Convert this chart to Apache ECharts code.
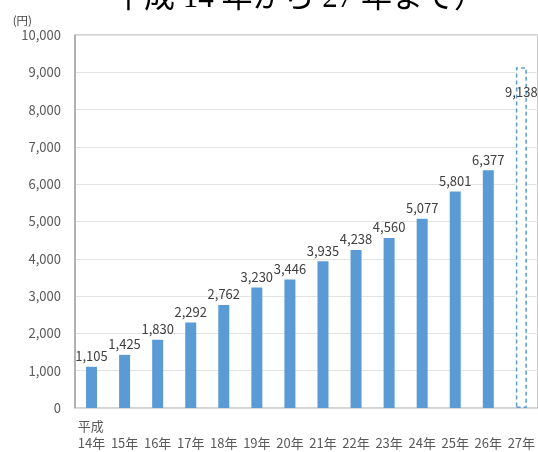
<!DOCTYPE html>
<html>
<head>
<meta charset="utf-8">
<script src="https://cdn.jsdelivr.net/npm/echarts@6/dist/echarts.min.js"></script>
<style>
html, body { margin: 0; padding: 0; background: #fff; }
#main { width: 538px; height: 452px; }
</style>
</head>
<body>
<div id="main"></div>
<script>
var titleText = "平成 14 年から 27 年まで）";
var unitName = "(円)";
var eraName = "平成";
var years = ["14年", "15年", "16年", "17年", "18年", "19年", "20年", "21年", "22年", "23年", "24年", "25年", "26年", "27年"];
var amounts = [1105, 1425, 1830, 2292, 2762, 3230, 3446, 3935, 4238, 4560, 5077, 5801, 6377, 9138];
// 最後の年は見込み（点線）
var estimateIndex = 13;

var font = "'Noto Sans CJK JP', 'Noto Sans', sans-serif";

function fmt(v) {
	return Number(v).toLocaleString('en-US');
}

var barData = amounts.map(function(v, i) {
	if (i != estimateIndex) {
		return v;
	}
	return {
		value : v,
		itemStyle : {
			color : '#ffffff',
			borderColor : '#5b9bd5',
			borderWidth : 1.5,
			borderType : [4, 3]
		},
		label : {
			position : 'insideTop',
			offset : [0, 14]
		}
	};
});

var chart = echarts.init(document.getElementById('main'));

chart.setOption({
	animation : false,
	title : {
		text : titleText,
		left : 113,
		top : -17,
		padding : 0,
		textStyle : {
			fontFamily : "'Liberation Serif', 'Noto Sans CJK JP', serif",
			fontSize : 31,
			fontWeight : 'normal',
			color : '#000'
		}
	},
	grid : {
		left : 75,
		right : -2,
		top : 35,
		bottom : 40,
		show : true,
		borderColor : '#a6a6a6',
		borderWidth : 1
	},
	xAxis : {
		type : 'category',
		data : years,
		axisLine : { lineStyle : { color : '#d9d9d9', width : 1 } },
		axisTick : { show : false },
		axisLabel : {
			margin : 10,
			fontFamily : font,
			fontSize : 13,
			color : '#595959',
			lineHeight : 17,
			interval : 0,
			formatter : function(v, i) {
				if (i == 0) {
					return '{e|' + eraName + '}\n' + v;
				}
				return '\n' + v;
			},
			rich : {
				e : {
					align : 'left',
					fontFamily : font,
					fontSize : 13,
					color : '#595959',
					lineHeight : 17
				}
			}
		}
	},
	yAxis : {
		type : 'value',
		min : 0,
		max : 10000,
		interval : 1000,
		name : unitName,
		nameLocation : 'end',
		nameGap : 9,
		nameTextStyle : {
			align : 'right',
			padding : [0, 43, 0, 0],
			fontFamily : font,
			fontSize : 11.5,
			color : '#404040'
		},
		axisLine : { show : true, lineStyle : { color : '#a6a6a6', width : 1.5 } },
		axisTick : { show : false },
		splitLine : { lineStyle : { color : '#e3e3e3' } },
		axisLabel : {
			margin : 14,
			fontFamily : font,
			fontSize : 13,
			color : '#595959',
			formatter : fmt
		}
	},
	series : [{
		type : 'bar',
		data : barData,
		barWidth : 11,
		itemStyle : { color : '#5b9bd5' },
		label : {
			show : true,
			position : 'top',
			distance : 4,
			fontFamily : font,
			fontSize : 13,
			color : '#404040',
			formatter : function(p) {
				return fmt(p.value);
			}
		}
	}]
});
</script>
</body>
</html>
